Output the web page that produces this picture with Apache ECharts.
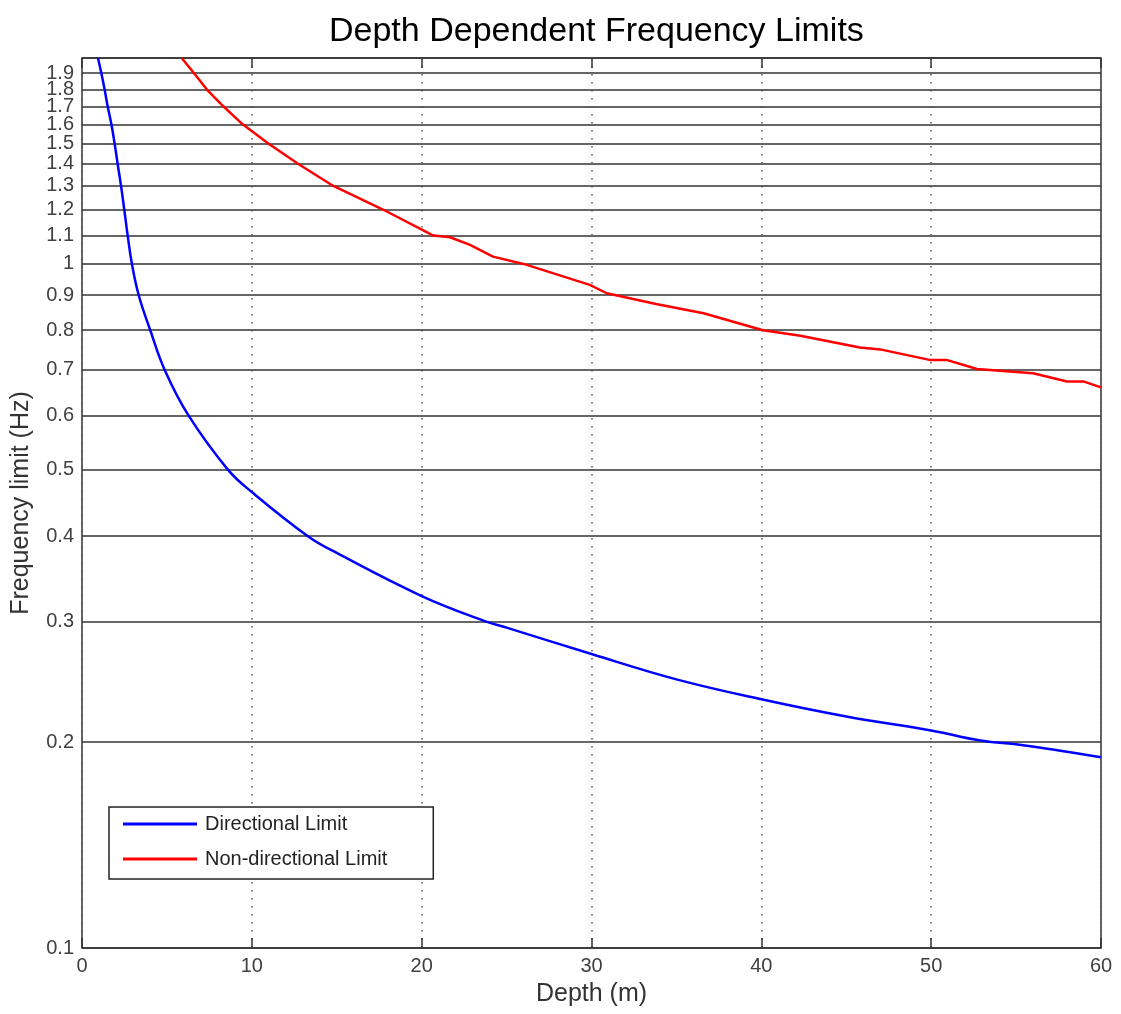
<!DOCTYPE html>
<html><head><meta charset="utf-8">
<script src="https://cdn.jsdelivr.net/npm/echarts@6/dist/echarts.min.js"></script>
<style>html,body{margin:0;padding:0;background:#fff}#c{width:1121px;height:1014px}</style>
</head><body><div id="c"></div>
<script>
const titleText = 'Depth Dependent Frequency Limits';
const xName = 'Depth (m)';
const yName = 'Frequency limit (Hz)';
const seriesNames = ['Directional Limit', 'Non-directional Limit'];
// labelled ticks 0.1 … 1.9; the axis top (2) carries a gridline but no label
const yTickValues = [0.1,0.2,0.3,0.4,0.5,0.6,0.7,0.8,0.9,1,1.1,1.2,1.3,1.4,1.5,1.6,1.7,1.8,1.9];
const yAxisTop = 2;
const yGridValues = yTickValues.concat([yAxisTop]);

const directionalDepth = [0.94,1.14,1.33,1.51,1.73,1.92,2.10,2.30,2.49,2.69,2.94,3.34,4.02,4.87,6.28,8.6,10,13.3,15,20,23.8,25,30,35,40,45,50,52.9,55,60];
const directionalFreq  = [2.0,1.9,1.8,1.7,1.6,1.5,1.4,1.3,1.2,1.1,1.0,0.9,0.8,0.7,0.6,0.5,0.464,0.4,0.378,0.327,0.3,0.294,0.269,0.247,0.231,0.218,0.208,0.201,0.1985,0.190];

const nondirDepth = [5.87,6.60,7.34,8.32,9.46,10.97,12.74,14.80,17.75,20.69,21.67,22.85,24.2,26.0,29.9,30.9,33.8,36.6,40.1,42.3,45.8,47.0,49.9,50.9,52.7,56.0,58.0,59.0,60];
const nondirFreq  = [2.0,1.9,1.8,1.7,1.6,1.5,1.4,1.3,1.2,1.1,1.094,1.066,1.025,1.0,0.932,0.906,0.874,0.847,0.80,0.785,0.755,0.750,0.724,0.724,0.702,0.692,0.673,0.673,0.660];

const zip = (a, b) => a.map((v, i) => [v, b[i]]);
const FONT = "'Liberation Sans', Arial, sans-serif";

const chart = echarts.init(document.getElementById('c'));
chart.setOption({
  animation: false,
  backgroundColor: '#fff',
  title: {
    text: titleText, left: 324, top: 10,
    textStyle: { fontFamily: FONT, fontSize: 34, fontWeight: 'normal', color: '#000' }
  },
  grid: { left: 82, right: 20, top: 58, bottom: 66, show: true, borderColor: '#333', borderWidth: 1.5, backgroundColor: '#fff' },
  legend: {
    orient: 'vertical', left: 109, top: 807,
    data: seriesNames,
    icon: 'rect', itemWidth: 74, itemHeight: 3, itemGap: 15,
    padding: [7, 46, 10, 14],
    borderColor: '#222', borderWidth: 1.5, backgroundColor: '#fff',
    textStyle: { fontFamily: FONT, fontSize: 20, color: '#222', lineHeight: 20, padding: [0, 0, 0, 3] }
  },
  xAxis: [{
    type: 'value', min: 0, max: 60, interval: 10,
    name: xName, nameLocation: 'middle', nameGap: 34,
    nameTextStyle: { fontFamily: FONT, fontSize: 25, color: '#333' },
    axisLine: { show: false },
    axisTick: { show: true, inside: true, length: 10, lineStyle: { color: '#333', width: 1.5 } },
    axisLabel: { fontFamily: FONT, fontSize: 20, color: '#404040', margin: 8 },
    splitLine: { show: true, lineStyle: { color: '#555', width: 1.5, type: [1.5, 6.5] } }
  }, {
    type: 'value', min: 0, max: 60, interval: 10, position: 'top',
    axisLine: { show: false },
    axisTick: { show: true, inside: true, length: 10, lineStyle: { color: '#333', width: 1.5 } },
    axisLabel: { show: false }, splitLine: { show: false }
  }],
  yAxis: {
    type: 'log', logBase: 10, min: 0.1, max: yAxisTop,
    name: yName, nameLocation: 'middle', nameGap: 48,
    nameTextStyle: { fontFamily: FONT, fontSize: 25, color: '#333' },
    axisLine: { show: false },
    axisTick: { show: false, customValues: yGridValues },
    axisLabel: { fontFamily: FONT, fontSize: 20, lineHeight: 12, color: '#404040', margin: 8, customValues: yGridValues,
      showMinLabel: true, hideOverlap: false,
      formatter: v => (Math.abs(v - yAxisTop) < 1e-9 ? '' : String(Math.round(v * 10) / 10)) },
    splitLine: { show: true, lineStyle: { color: '#333', width: 1.5, type: 'solid' } },
    minorSplitLine: { show: false }
  },
  series: [{
    name: seriesNames[0], type: 'line', data: zip(directionalDepth, directionalFreq),
    showSymbol: false, smooth: 0.4, clip: true,
    lineStyle: { color: '#0000ff', width: 2.5 }, itemStyle: { color: '#0000ff' }
  }, {
    name: seriesNames[1], type: 'line', data: zip(nondirDepth, nondirFreq),
    showSymbol: false, clip: true,
    lineStyle: { color: '#ff0000', width: 2.5 }, itemStyle: { color: '#ff0000' }
  }]
});
</script></body></html>
